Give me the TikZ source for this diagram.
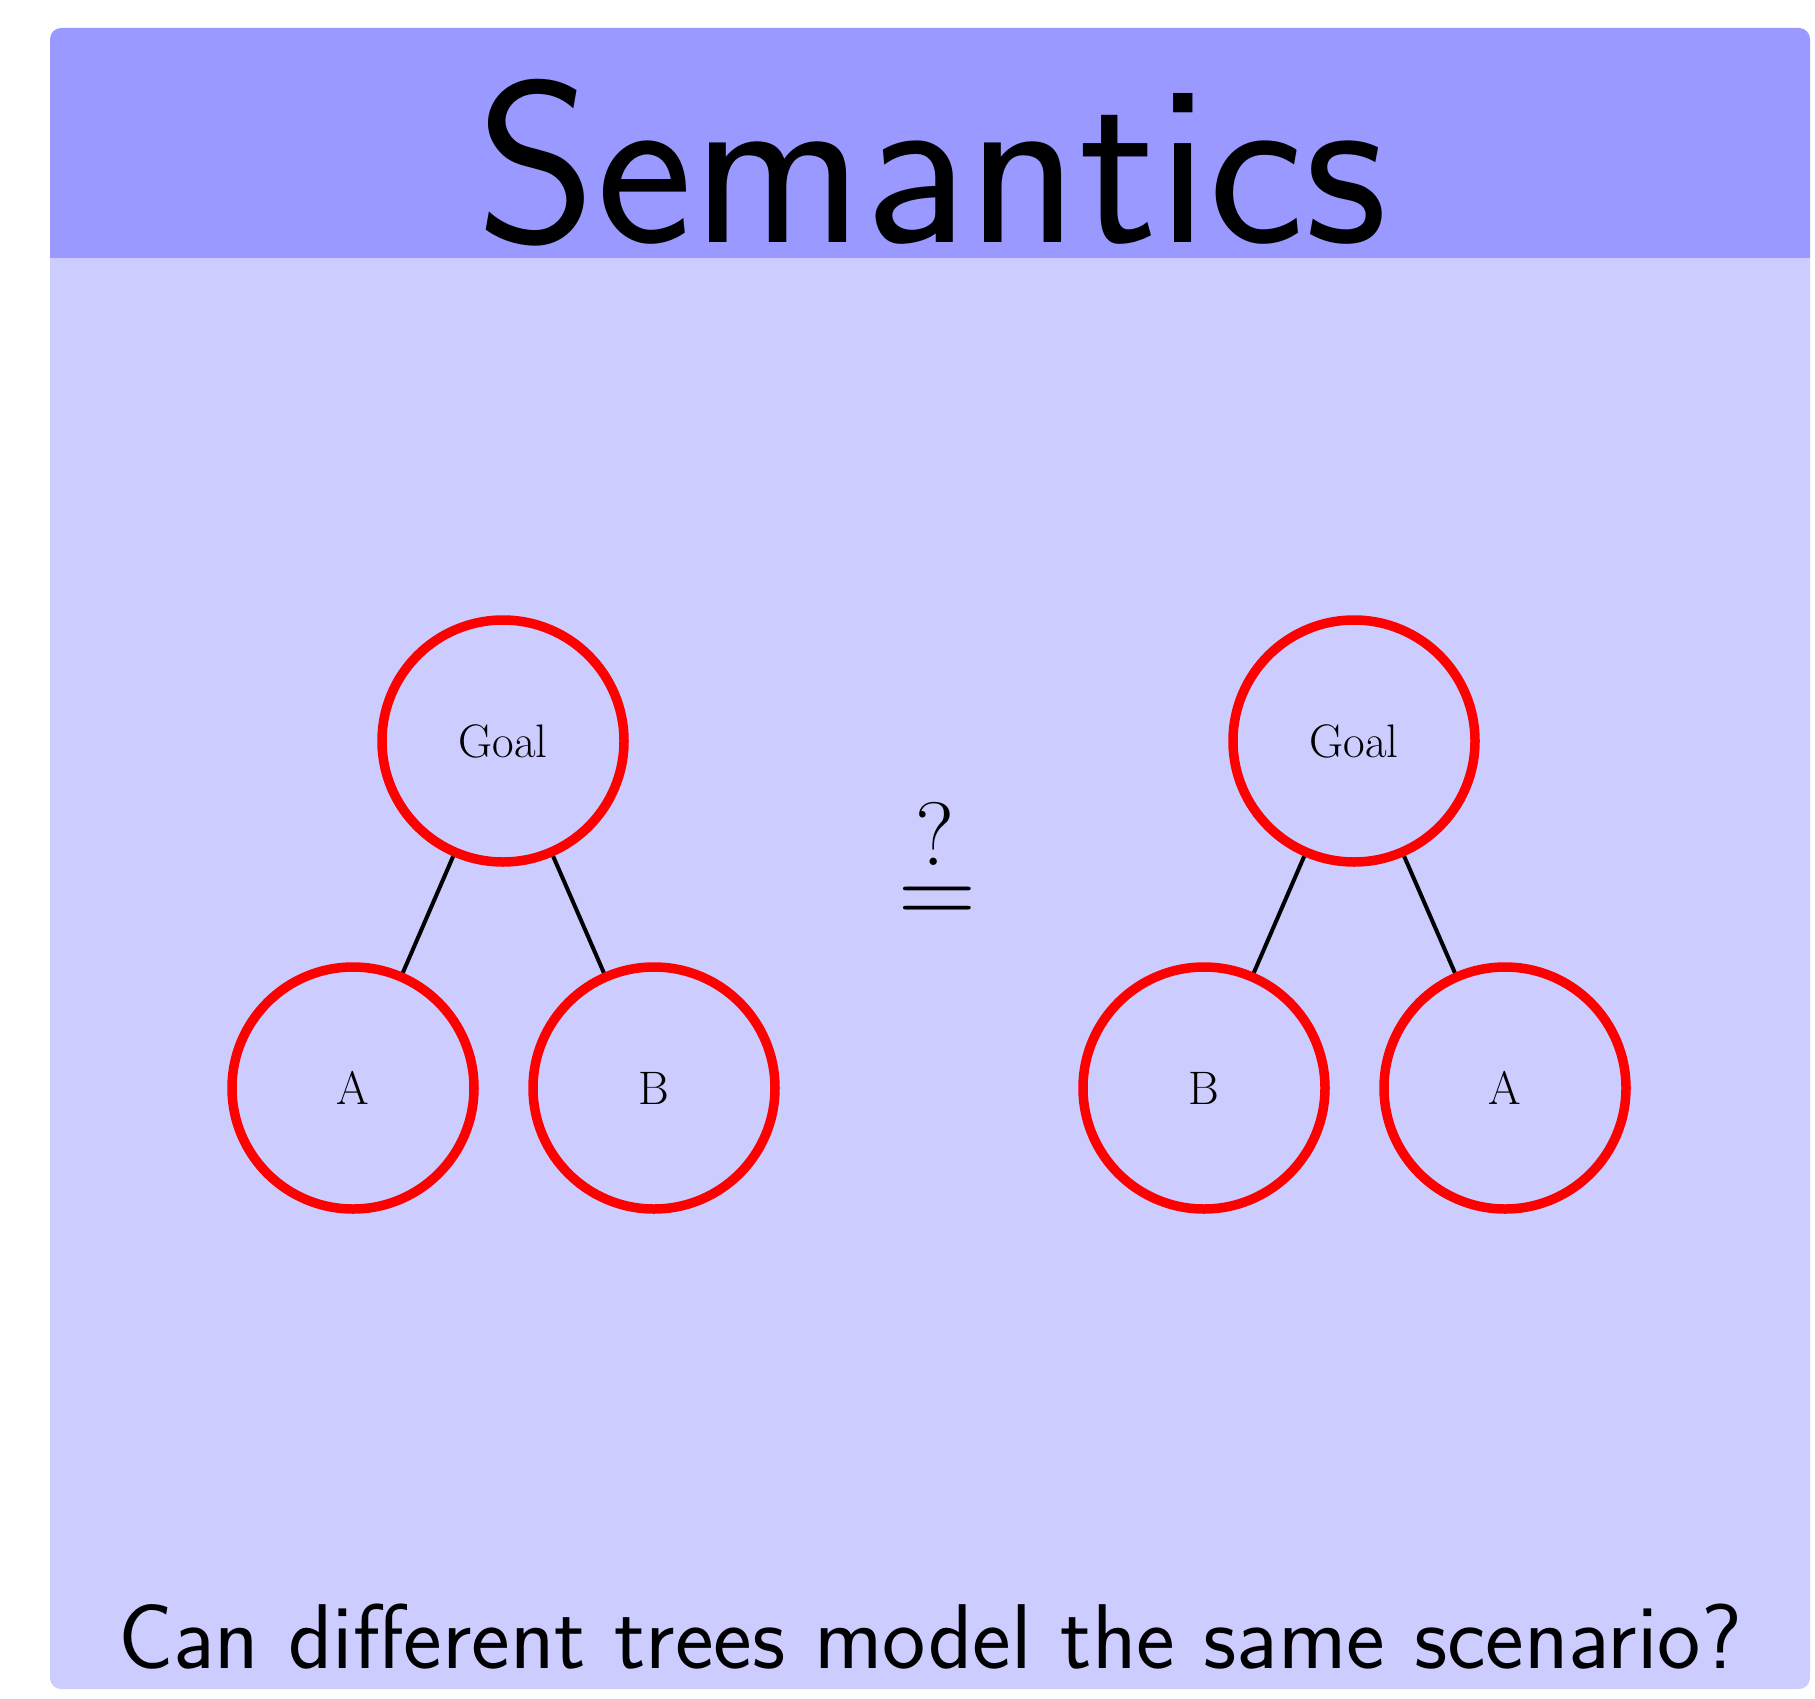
\documentclass[tikz,border=0pt]{standalone}
\usepackage{fontspec}
\definecolor{headblue}{HTML}{9999FF}
\definecolor{bodyblue}{HTML}{CCCCFF}
\begin{document}
\begin{tikzpicture}[x=1pt,y=-1pt,
  treenode/.style={circle,draw=red,line width=9.5pt,minimum size=242pt,inner sep=0pt,
    font=\fontsize{47}{47}\selectfont},
  edge/.style={draw=black,line width=4pt}]
\useasboundingbox (0,0) rectangle (1815,1699);
\fill[bodyblue,rounded corners=11pt] (50,250) rectangle (1810,1689);
\fill[headblue,rounded corners=11pt] (50,28) rectangle (1810,270);
\fill[bodyblue] (50,258) rectangle (1810,275);
\node[font=\sffamily\fontsize{230}{230}\selectfont,anchor=base] (title) at (932,243) {Semantics};
\node[font=\sffamily\fontsize{92}{92}\selectfont,anchor=base] (question) at (930,1668) {Can different trees model the same scenario?};
% left tree
\node[treenode] (g1) at (503,741) {Goal};
\node[treenode] (a1) at (353,1088) {A};
\node[treenode] (b1) at (654,1088) {B};
\draw[edge] (g1) -- (a1);
\draw[edge] (g1) -- (b1);
% right tree
\node[treenode] (g2) at (1354,741) {Goal};
\node[treenode] (b2) at (1204,1088) {B};
\node[treenode] (a2) at (1505,1088) {A};
\draw[edge] (g2) -- (b2);
\draw[edge] (g2) -- (a2);
% stacked question equals
\node[font=\fontsize{90}{90}\selectfont,anchor=base,inner sep=0pt] (qm) at (935,865) {?};
\node[font=\fontsize{108}{108}\selectfont,anchor=base,inner sep=0pt] (eq) at (937,925) {=};
\end{tikzpicture}
\end{document}
